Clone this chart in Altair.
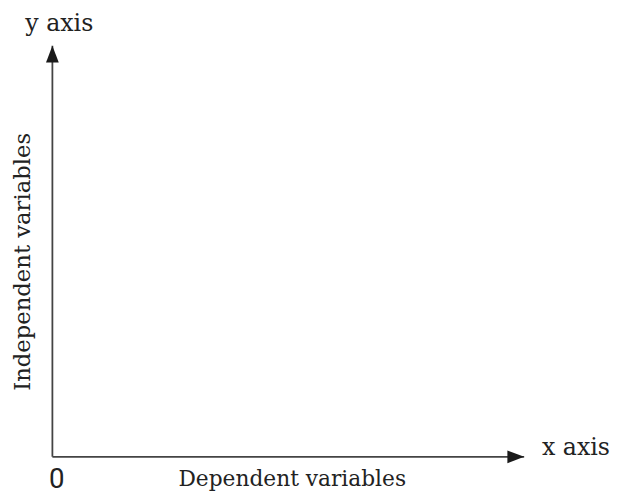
import altair as alt
import pandas as pd

# axis segments (origin to arrow tip), in diagram units
axis_x0 = [0, 0]
axis_y0 = [0, 0]
axis_x1 = [10, 0]
axis_y1 = [0, 10]

# arrowhead tips
tip_x = [10, 0]
tip_y = [0, 10]
tip_angle = [90, 0]

# labels
y_label = ["y axis"]
y_label_pos = [0.146, 10.36]
x_label = ["x axis"]
x_label_pos = [10.377, 0.036]
x_title = ["Dependent variables"]
x_title_pos = [5.084, -0.708]
origin_text = ["0"]
origin_pos = [0.094, -0.756]
y_title = ["Independent variables"]
y_title_pos = [-0.628, 4.742]

XD = [-0.941, 11.862]
YD = [-0.828, 10.84]
xs = alt.Scale(domain=XD, nice=False, zero=False)
ys = alt.Scale(domain=YD, nice=False, zero=False)

axes_df = pd.DataFrame({"x": axis_x0, "y": axis_y0, "x2": axis_x1, "y2": axis_y1})
tips_df = pd.DataFrame({"x": tip_x, "y": tip_y, "a": tip_angle})

X = lambda: alt.X("x:Q", scale=xs, axis=None)
Y = lambda: alt.Y("y:Q", scale=ys, axis=None)

lines = alt.Chart(axes_df).mark_rule(color="#444444", strokeWidth=1.8).encode(
    x=X(), y=Y(), x2="x2:Q", y2="y2:Q")

tips = alt.Chart(tips_df).mark_point(shape="M0,0 L-0.38,1 L0.38,1 Z", filled=True,
                                     color="#1a1a1a", size=1156, opacity=1,
                                     strokeWidth=0).encode(
    x=X(), y=Y(), angle=alt.Angle("a:Q", scale=None))


def text_layer(txt, pos, align, baseline, size, font, angle=0):
    df = pd.DataFrame({"t": txt, "x": [pos[0]], "y": [pos[1]]})
    return alt.Chart(df).mark_text(align=align, baseline=baseline, fontSize=size, font=font,
                                   color="#222222", angle=angle).encode(
        x=X(), y=Y(), text="t:N")


t1 = text_layer(y_label, y_label_pos, "center", "alphabetic", 24, "DejaVu Serif")
t2 = text_layer(x_label, x_label_pos, "left", "alphabetic", 24, "DejaVu Serif")
t3 = text_layer(x_title, x_title_pos, "center", "alphabetic", 22, "DejaVu Serif")
t0 = text_layer(origin_text, origin_pos, "center", "alphabetic", 28, "Roboto")
ty = text_layer(y_title, y_title_pos, "center", "middle", 23, "DejaVu Serif", angle=270)

chart = alt.layer(lines, tips, t1, t2, t3, t0, ty).properties(
    width=612, height=486, padding=0,
    autosize=alt.AutoSizeParams(type="none")
).configure_view(stroke=None)

chart.save("out.html", embed_options={"renderer": "svg", "actions": False})
